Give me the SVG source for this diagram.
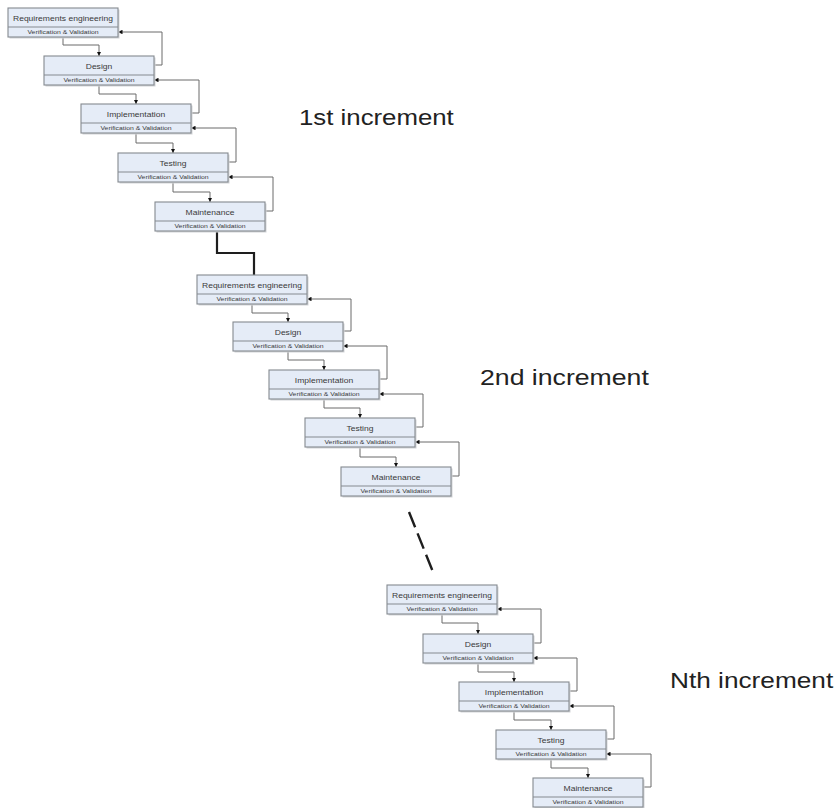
<svg xmlns="http://www.w3.org/2000/svg" width="836" height="808" viewBox="0 0 836 808">
  <style>
    .shadow { fill: #d2d4d8; }
    .box { fill: #e5ecf7; stroke: #858a90; stroke-width: 1.1; }
    .div { stroke: #858a90; stroke-width: 1; fill: none; }
    .t { font-family: "Liberation Sans", Arial, sans-serif; fill: #3a3a3a; text-anchor: middle; }
    .main { font-size: 7px; }
    .vv { font-size: 5.6px; }
    .lbl { font-family: "Liberation Sans", Arial, sans-serif; fill: #222; font-size: 21.5px; }
    .link { fill: none; stroke: #6b6b6b; stroke-width: 1; }
    .fwd { marker-end: url(#arrowDown); }
    .back { marker-end: url(#arrowBack); }
    .step { fill: none; stroke: #1e1e1e; stroke-width: 2.2; }
    .gap { fill: none; stroke: #1e1e1e; stroke-width: 2.4; stroke-dasharray: 16.5 6.5; }
  </style>
  <defs>
    <marker id="arrowDown" viewBox="0 0 6 6" refX="6" refY="3" markerWidth="4" markerHeight="4" orient="auto" markerUnits="userSpaceOnUse">
      <path d="M0,0 L6,3 L0,6 z" fill="#111"/>
    </marker>
    <marker id="arrowBack" viewBox="0 0 6 6" refX="6" refY="3" markerWidth="4.5" markerHeight="4.5" orient="auto" markerUnits="userSpaceOnUse">
      <path d="M0,0 L6,3 L0,6 z" fill="#111"/>
    </marker>
    <!-- phase box: 110 x 29, label band 19 px high, V&V band below -->
    <g id="phaseFrame">
      <rect class="shadow" x="1.5" y="1.5" width="110" height="29"/>
      <rect class="box" x="0" y="0" width="110" height="29"/>
      <line class="div" x1="0" y1="19" x2="110" y2="19"/>
    </g>
  </defs>

  <!-- connectors -->
  <g id="connectors">
    <!-- increment 1: forward flow -->
    <path class="link fwd" d="M63 37 V45 H99 V56"/>
    <path class="link fwd" d="M99 85 V94 H136 V104"/>
    <path class="link fwd" d="M136 133 V143 H173 V153"/>
    <path class="link fwd" d="M173 182 V192 H210 V202"/>
    <!-- increment 1: feedback -->
    <path class="link back" d="M154 65 H162 V32 H118"/>
    <path class="link back" d="M191 113 H199 V80 H154"/>
    <path class="link back" d="M228 162 H236 V128 H191"/>
    <path class="link back" d="M265 211 H273 V177 H228"/>

    <!-- hand-over from increment 1 to increment 2 -->
    <path class="step" d="M217 231 V253 H254 V275"/>

    <!-- increment 2: forward flow -->
    <path class="link fwd" d="M252 304 V313 H288 V322"/>
    <path class="link fwd" d="M288 351 V360 H324 V370"/>
    <path class="link fwd" d="M324 399 V408 H360 V418"/>
    <path class="link fwd" d="M360 447 V457 H396 V467"/>
    <!-- increment 2: feedback -->
    <path class="link back" d="M343 331 H351 V299 H307"/>
    <path class="link back" d="M379 379 H387 V346 H343"/>
    <path class="link back" d="M415 427 H423 V394 H379"/>
    <path class="link back" d="M451 476 H459 V442 H415"/>

    <!-- further increments elided -->
    <path class="gap" d="M409 512 L433 572"/>

    <!-- increment N: forward flow -->
    <path class="link fwd" d="M442 614 V623 H478 V634"/>
    <path class="link fwd" d="M478 663 V672 H514 V682"/>
    <path class="link fwd" d="M514 711 V720 H551 V730"/>
    <path class="link fwd" d="M551 759 V768 H588 V778"/>
    <!-- increment N: feedback -->
    <path class="link back" d="M533 643 H541 V609 H497"/>
    <path class="link back" d="M569 691 H577 V658 H533"/>
    <path class="link back" d="M606 739 H614 V706 H569"/>
    <path class="link back" d="M643 787 H651 V754 H606"/>
  </g>

  <!-- increment 1 -->
  <g id="inc1-requirements" transform="translate(8 8)">
    <use href="#phaseFrame"/>
    <text class="t main" transform="matrix(1.22 0 0 1 55 12.5)">Requirements engineering</text>
    <text class="t vv" transform="matrix(1.22 0 0 1 55 26)">Verification &amp; Validation</text>
  </g>
  <g id="inc1-design" transform="translate(44 56)">
    <use href="#phaseFrame"/>
    <text class="t main" transform="matrix(1.22 0 0 1 55 12.5)">Design</text>
    <text class="t vv" transform="matrix(1.22 0 0 1 55 26)">Verification &amp; Validation</text>
  </g>
  <g id="inc1-implementation" transform="translate(81 104)">
    <use href="#phaseFrame"/>
    <text class="t main" transform="matrix(1.22 0 0 1 55 12.5)">Implementation</text>
    <text class="t vv" transform="matrix(1.22 0 0 1 55 26)">Verification &amp; Validation</text>
  </g>
  <g id="inc1-testing" transform="translate(118 153)">
    <use href="#phaseFrame"/>
    <text class="t main" transform="matrix(1.22 0 0 1 55 12.5)">Testing</text>
    <text class="t vv" transform="matrix(1.22 0 0 1 55 26)">Verification &amp; Validation</text>
  </g>
  <g id="inc1-maintenance" transform="translate(155 202)">
    <use href="#phaseFrame"/>
    <text class="t main" transform="matrix(1.22 0 0 1 55 12.5)">Maintenance</text>
    <text class="t vv" transform="matrix(1.22 0 0 1 55 26)">Verification &amp; Validation</text>
  </g>

  <!-- increment 2 -->
  <g id="inc2-requirements" transform="translate(197 275)">
    <use href="#phaseFrame"/>
    <text class="t main" transform="matrix(1.22 0 0 1 55 12.5)">Requirements engineering</text>
    <text class="t vv" transform="matrix(1.22 0 0 1 55 26)">Verification &amp; Validation</text>
  </g>
  <g id="inc2-design" transform="translate(233 322)">
    <use href="#phaseFrame"/>
    <text class="t main" transform="matrix(1.22 0 0 1 55 12.5)">Design</text>
    <text class="t vv" transform="matrix(1.22 0 0 1 55 26)">Verification &amp; Validation</text>
  </g>
  <g id="inc2-implementation" transform="translate(269 370)">
    <use href="#phaseFrame"/>
    <text class="t main" transform="matrix(1.22 0 0 1 55 12.5)">Implementation</text>
    <text class="t vv" transform="matrix(1.22 0 0 1 55 26)">Verification &amp; Validation</text>
  </g>
  <g id="inc2-testing" transform="translate(305 418)">
    <use href="#phaseFrame"/>
    <text class="t main" transform="matrix(1.22 0 0 1 55 12.5)">Testing</text>
    <text class="t vv" transform="matrix(1.22 0 0 1 55 26)">Verification &amp; Validation</text>
  </g>
  <g id="inc2-maintenance" transform="translate(341 467)">
    <use href="#phaseFrame"/>
    <text class="t main" transform="matrix(1.22 0 0 1 55 12.5)">Maintenance</text>
    <text class="t vv" transform="matrix(1.22 0 0 1 55 26)">Verification &amp; Validation</text>
  </g>

  <!-- increment N -->
  <g id="incN-requirements" transform="translate(387 585)">
    <use href="#phaseFrame"/>
    <text class="t main" transform="matrix(1.22 0 0 1 55 12.5)">Requirements engineering</text>
    <text class="t vv" transform="matrix(1.22 0 0 1 55 26)">Verification &amp; Validation</text>
  </g>
  <g id="incN-design" transform="translate(423 634)">
    <use href="#phaseFrame"/>
    <text class="t main" transform="matrix(1.22 0 0 1 55 12.5)">Design</text>
    <text class="t vv" transform="matrix(1.22 0 0 1 55 26)">Verification &amp; Validation</text>
  </g>
  <g id="incN-implementation" transform="translate(459 682)">
    <use href="#phaseFrame"/>
    <text class="t main" transform="matrix(1.22 0 0 1 55 12.5)">Implementation</text>
    <text class="t vv" transform="matrix(1.22 0 0 1 55 26)">Verification &amp; Validation</text>
  </g>
  <g id="incN-testing" transform="translate(496 730)">
    <use href="#phaseFrame"/>
    <text class="t main" transform="matrix(1.22 0 0 1 55 12.5)">Testing</text>
    <text class="t vv" transform="matrix(1.22 0 0 1 55 26)">Verification &amp; Validation</text>
  </g>
  <g id="incN-maintenance" transform="translate(533 778)">
    <use href="#phaseFrame"/>
    <text class="t main" transform="matrix(1.22 0 0 1 55 12.5)">Maintenance</text>
    <text class="t vv" transform="matrix(1.22 0 0 1 55 26)">Verification &amp; Validation</text>
  </g>

  <!-- increment captions -->
  <g id="captions">
    <text class="lbl" transform="matrix(1.2 0 0 1 299 125)">1st increment</text>
    <text class="lbl" transform="matrix(1.24 0 0 1 480 385)">2nd increment</text>
    <text class="lbl" transform="matrix(1.22 0 0 1 670 688)">Nth increment</text>
  </g>
</svg>
